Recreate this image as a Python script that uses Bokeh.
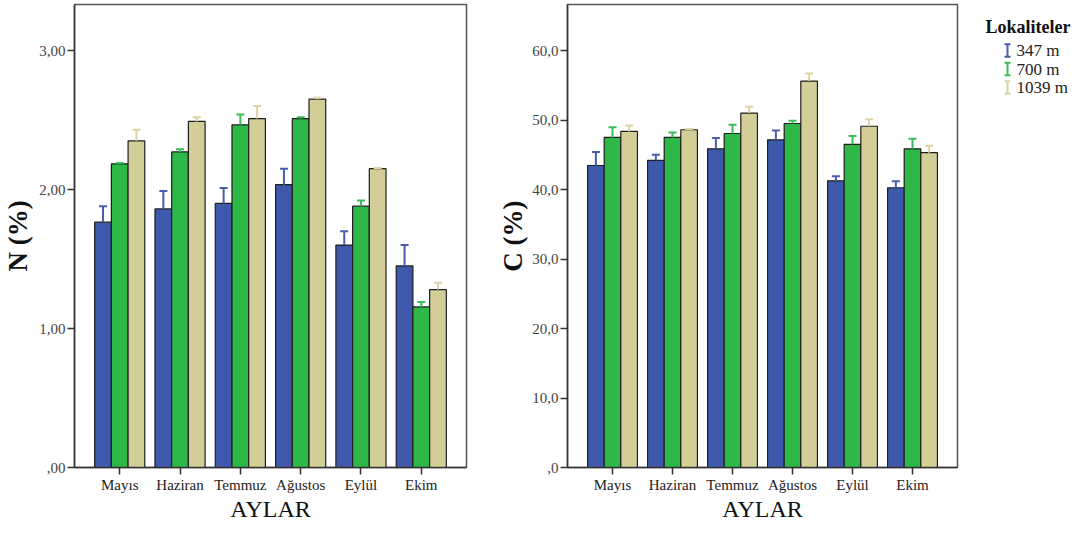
from bokeh.plotting import figure
from bokeh.models import FactorRange, Range1d, FixedTicker, Whisker, TeeHead, ColumnDataSource
from bokeh.transform import dodge
from bokeh.layouts import row
from bokeh.embed import file_html
from bokeh.resources import INLINE
from bokeh.core.properties import value

months = ["Mayıs", "Haziran", "Temmuz", "Ağustos", "Eylül", "Ekim"]
series = ["347 m", "700 m", "1039 m"]

n_347 = [1.765, 1.86, 1.90, 2.035, 1.60, 1.45]
n_347_err = [1.88, 1.99, 2.01, 2.15, 1.70, 1.60]
n_700 = [2.185, 2.27, 2.465, 2.51, 1.88, 1.155]
n_700_err = [2.19, 2.29, 2.54, 2.52, 1.92, 1.19]
n_1039 = [2.35, 2.49, 2.51, 2.65, 2.15, 1.28]
n_1039_err = [2.43, 2.52, 2.60, 2.66, 2.155, 1.33]

c_347 = [43.45, 44.2, 45.85, 47.15, 41.25, 40.25]
c_347_err = [45.4, 45.0, 47.4, 48.5, 41.9, 41.2]
c_700 = [47.5, 47.5, 48.06, 49.5, 46.5, 45.85]
c_700_err = [48.96, 48.2, 49.3, 49.9, 47.7, 47.3]
c_1039 = [48.35, 48.6, 51.0, 55.6, 49.1, 45.3]
c_1039_err = [49.2, 48.7, 51.9, 56.7, 50.1, 46.3]

n_ticks = [0, 1, 2, 3]
n_tick_labels = [",00", "1,00", "2,00", "3,00"]
c_ticks = [0, 10, 20, 30, 40, 50, 60]
c_tick_labels = [",0", "10,0", "20,0", "30,0", "40,0", "50,0", "60,0"]

bar_colors = ["#3E58AC", "#2EB848", "#D3CE97"]
err_colors = ["#4A5BB0", "#3DBB58", "#DCD4A4"]
offsets = [-0.277, 0.0, 0.277]
SERIF = "Liberation Serif"


def make_plot(vals, errs, ymax, ticks, tick_labels, ylabel, width, mbl, mbr, ylab_standoff):
    p = figure(x_range=FactorRange(factors=months, range_padding=0.25, range_padding_units="absolute"),
               y_range=Range1d(0, ymax), width=width, height=524,
               min_border_left=mbl, min_border_right=mbr, min_border_top=4, min_border_bottom=57,
               output_backend="svg", toolbar_location=None)
    for i in range(3):
        src = ColumnDataSource(dict(month=months, v=vals[i], e=errs[i]))
        xd = dodge("month", offsets[i], range=p.x_range)
        p.vbar(x=xd, top="v", width=0.277, source=src,
               fill_color=bar_colors[i], line_color="#1E1E1E", line_width=1.2)
        w = Whisker(base=xd, upper="e", lower="v", source=src,
                    line_color=err_colors[i], line_width=2,
                    upper_head=TeeHead(size=8, line_color=err_colors[i], line_width=2),
                    lower_head=None, level="overlay")
        p.add_layout(w)
    p.xgrid.visible = False
    p.ygrid.visible = False
    p.outline_line_color = "#555555"
    p.outline_line_width = 1.5
    p.background_fill_color = "white"
    p.border_fill_color = "white"

    p.yaxis.ticker = FixedTicker(ticks=ticks)
    p.yaxis.major_label_overrides = {t: l for t, l in zip(ticks, tick_labels)}
    p.yaxis.axis_label = ylabel
    p.yaxis.axis_label_text_font = SERIF
    p.yaxis.axis_label_text_font_style = "bold"
    p.yaxis.axis_label_text_font_size = "27px"
    p.yaxis.axis_label_text_color = "#111111"
    p.yaxis.axis_label_standoff = ylab_standoff
    p.yaxis.major_label_text_font = SERIF
    p.yaxis.major_label_text_font_size = "15px"
    p.yaxis.major_label_text_color = "#444444"
    p.yaxis.major_label_standoff = 2

    p.xaxis.axis_label = "AYLAR"
    p.xaxis.axis_label_text_font = SERIF
    p.xaxis.axis_label_text_font_style = "normal"
    p.xaxis.axis_label_text_font_size = "24px"
    p.xaxis.axis_label_text_color = "#111111"
    p.xaxis.axis_label_standoff = 0
    p.xaxis.major_label_text_font = SERIF
    p.xaxis.major_label_text_font_size = "15px"
    p.xaxis.major_label_text_color = "#222222"
    p.xaxis.major_label_standoff = 2

    for ax in (p.xaxis, p.yaxis):
        ax.axis_line_color = "#333333"
        ax.axis_line_width = 1.5
        ax.major_tick_line_color = "#333333"
        ax.major_tick_line_width = 1.5
        ax.major_tick_out = 7
        ax.major_tick_in = 0
        ax.minor_tick_line_color = None
    return p


p1 = make_plot([n_347, n_700, n_1039], [n_347_err, n_700_err, n_1039_err],
               463 / 139.0, n_ticks, n_tick_labels, "N (%)", 492, 74, 26, 3)
p2 = make_plot([c_347, c_700, c_1039], [c_347_err, c_700_err, c_1039_err],
               463 / 6.95, c_ticks, c_tick_labels, "C (%)", 469, 75, 4, 1)

# legend panel
lg = figure(width=110, height=524, x_range=Range1d(0, 110), y_range=Range1d(524, 0),
            min_border=0, x_axis_location=None, y_axis_location=None,
            output_backend="svg", toolbar_location=None)
lg.xgrid.visible = False
lg.ygrid.visible = False
lg.outline_line_color = None
lg.text(x=[24], y=[25], text=["Lokaliteler"], text_font=value(SERIF), text_font_style="bold",
        text_font_size="18px", text_baseline="middle", text_align="left", text_color="#111111")
ys = [52 + 21 * i for i in range(len(series))]
lg.segment(x0=[46] * 3, x1=[46] * 3, y0=[y - 7 for y in ys], y1=[y + 7 for y in ys],
           line_color=err_colors, line_width=2)
lg.segment(x0=[43] * 3, x1=[49] * 3, y0=[y - 7 for y in ys], y1=[y - 7 for y in ys],
           line_color=err_colors, line_width=2)
lg.segment(x0=[43] * 3, x1=[49] * 3, y0=[y + 7 for y in ys], y1=[y + 7 for y in ys],
           line_color=err_colors, line_width=2)
lg.text(x=[55] * 3, y=ys, text=series, text_font=value(SERIF), text_font_size="17px",
        text_baseline="middle", text_align="left", text_color="#222222")

layout = row(p1, p2, lg)
open("out.html", "w").write(file_html(layout, INLINE))
